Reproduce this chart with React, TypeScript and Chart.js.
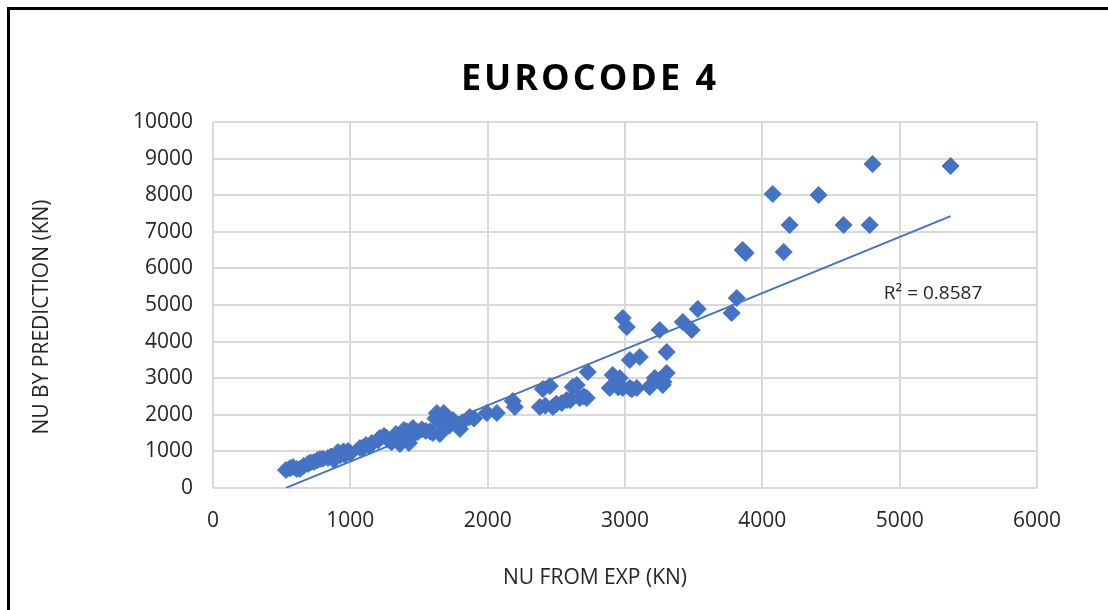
import React, { useEffect, useRef } from "react";
import { Chart, registerables } from "chart.js";

Chart.register(...registerables);

const TITLE = "EUROCODE 4";
const X_TITLE = "NU FROM EXP (KN)";
const Y_TITLE = "NU BY PREDICTION (KN)";
const R2_LABEL = "R² = 0.8587";

const X_TICKS = [0, 1000, 2000, 3000, 4000, 5000, 6000];
const Y_TICKS = [0, 1000, 2000, 3000, 4000, 5000, 6000, 7000, 8000, 9000, 10000];

const NU_EXP = [
  531, 582, 633, 691, 735, 779, 837, 881, 910, 961, 983, 1070, 1114, 1157, 1215, 1245,
  1281, 1332, 1361, 1390, 1427, 1456, 1492, 1550, 1601, 1630, 1652, 1681, 1652, 1747,
  1798, 1870, 1994, 2067, 2183, 2198, 2380, 2402, 2453, 2475, 2540, 2576, 2620, 2671,
  2722, 2649, 2729, 2911, 2889, 2984, 2962, 3035, 3108, 3035, 3086, 3180, 3217, 3253,
  3304, 3275, 3304, 3253, 2984, 3013, 3421, 3486, 3530, 3814, 3777, 3879, 3857, 4156,
  4199, 4076, 4410, 4592, 4782, 4803, 5371,
  560, 610, 660, 710, 760, 800, 860, 930, 950, 1000, 1090, 1140, 1200, 1260, 1300,
  1350, 1410, 1470, 1520, 1580, 1620, 1700, 1720, 1820, 1900,
  2420, 2500, 2600, 2700, 2950, 3050, 3200, 3280,
];

const NU_PRED = [
  492, 574, 519, 656, 710, 792, 820, 765, 984, 902, 1011, 1093, 1175, 1230, 1366, 1421,
  1311, 1475, 1202, 1585, 1230, 1639, 1530, 1557, 1503, 2049, 1831, 2049, 1475, 1858,
  1612, 1940, 2049, 2049, 2377, 2213, 2213, 2705, 2787, 2213, 2322, 2404, 2760, 2459,
  2459, 2814, 3169, 3087, 2732, 2732, 3005, 3497, 3579, 2732, 2732, 2760, 3005, 2951,
  3142, 2814, 3716, 4317, 4645, 4399, 4536, 4317, 4891, 5191, 4781, 6421, 6503, 6448,
  7186, 8033, 8005, 7186, 7186, 8852, 8798,
  540, 520, 600, 700, 760, 800, 860, 900, 1000, 950, 1100, 1150, 1300, 1380, 1250,
  1400, 1550, 1500, 1600, 1550, 1900, 1950, 1700, 1800, 1900,
  2250, 2300, 2400, 2500, 2750, 2700, 2850, 2900,
];

const BLUE = "#4472C4";
const TEXT = "#262626";
const GRID = "#d9d9d9";
const FONT = "'Open Sans', 'Liberation Sans', sans-serif";

function linearFit(xs: number[], ys: number[]) {
  const n = xs.length;
  let sx = 0, sy = 0, sxx = 0, sxy = 0;
  for (let i = 0; i < n; i++) {
    sx += xs[i];
    sy += ys[i];
    sxx += xs[i] * xs[i];
    sxy += xs[i] * ys[i];
  }
  const slope = (n * sxy - sx * sy) / (n * sxx - sx * sx);
  const intercept = (sy - slope * sx) / n;
  return { slope, intercept };
}

const textPlugin = {
  id: "chartTexts",
  afterDraw(chart: any) {
    const ctx = chart.ctx as CanvasRenderingContext2D;
    ctx.save();
    ctx.font = `bold 36px ${FONT}`;
    (ctx as any).letterSpacing = "3px";
    ctx.fillStyle = "#000";
    ctx.textAlign = "center";
    ctx.textBaseline = "alphabetic";
    ctx.fillText(TITLE, 580, 80);
    (ctx as any).letterSpacing = "0px";

    ctx.font = `21px ${FONT}`;
    ctx.fillStyle = TEXT;
    ctx.textAlign = "center";
    ctx.textBaseline = "middle";
    ctx.fillText(X_TITLE, 585, 568);

    ctx.save();
    ctx.translate(32, 307);
    ctx.rotate(-Math.PI / 2);
    ctx.fillText(Y_TITLE, 0, 0);
    ctx.restore();
    ctx.restore();
  },
  afterDatasetsDraw(chart: any) {
    const ctx = chart.ctx as CanvasRenderingContext2D;
    const xs = chart.scales.x;
    const ys = chart.scales.y;
    ctx.save();
    ctx.font = `19px ${FONT}`;
    ctx.fillStyle = TEXT;
    ctx.textAlign = "left";
    ctx.textBaseline = "alphabetic";
    ctx.fillText(R2_LABEL, xs.getPixelForValue(4885), ys.getPixelForValue(5160));
    ctx.restore();
  },
};

export default function App() {
  const ref = useRef<HTMLCanvasElement | null>(null);

  useEffect(() => {
    if (!ref.current) return;
    const { slope, intercept } = linearFit(NU_EXP, NU_PRED);
    const xMin = Math.min(...NU_EXP);
    const xMax = Math.max(...NU_EXP);
    const points = NU_EXP.map((x, i) => ({ x, y: NU_PRED[i] }));
    const trend = [
      { x: xMin, y: slope * xMin + intercept },
      { x: xMax, y: slope * xMax + intercept },
    ];

    const chart = new Chart(ref.current, {
      type: "scatter",
      data: {
        datasets: [
          {
            label: "Trend",
            data: trend,
            type: "line",
            showLine: true,
            borderColor: BLUE,
            borderWidth: 2,
            pointRadius: 0,
            fill: false,
            order: 1,
          } as any,
          {
            label: "EC4",
            data: points,
            pointStyle: "rectRot",
            pointRadius: 8.5,
            pointHoverRadius: 8.5,
            backgroundColor: BLUE,
            borderColor: BLUE,
            borderWidth: 1,
            order: 2,
          },
        ],
      },
      options: {
        responsive: false,
        animation: false,
        events: [],
        layout: { padding: { top: 112, right: 71, bottom: 0, left: 0 } },
        plugins: {
          legend: { display: false },
          title: { display: false },
          tooltip: { enabled: false },
        },
        scales: {
          x: {
            type: "linear",
            min: X_TICKS[0],
            max: X_TICKS[X_TICKS.length - 1],
            afterBuildTicks: (s: any) => {
              s.ticks = X_TICKS.map((v) => ({ value: v }));
            },
            afterFit: (s: any) => {
              s.height = 122;
            },
            grid: { color: GRID, lineWidth: 2, drawTicks: false },
            border: { display: false },
            ticks: {
              color: TEXT,
              font: { family: FONT, size: 21 },
              padding: 20,
              maxRotation: 0,
              callback: (v: any) => String(v),
            },
          },
          y: {
            type: "linear",
            min: Y_TICKS[0],
            max: Y_TICKS[Y_TICKS.length - 1],
            afterBuildTicks: (s: any) => {
              s.ticks = Y_TICKS.map((v) => ({ value: v }));
            },
            afterFit: (s: any) => {
              s.width = 203;
            },
            grid: { color: GRID, lineWidth: 2, drawTicks: false },
            border: { display: false },
            ticks: {
              color: TEXT,
              font: { family: FONT, size: 21 },
              padding: 20,
              callback: (v: any) => String(v),
            },
          },
        },
      },
      plugins: [textPlugin],
    });
    return () => chart.destroy();
  }, []);

  return (
    <div
      style={{
        position: "fixed",
        left: 7,
        top: 7,
        borderLeft: "3px solid #000",
        borderTop: "3px solid #000",
        width: 1098,
        height: 600,
        background: "#fff",
      }}
    >
      <canvas ref={ref} width={1098} height={600} style={{ display: "block" }} />
    </div>
  );
}
